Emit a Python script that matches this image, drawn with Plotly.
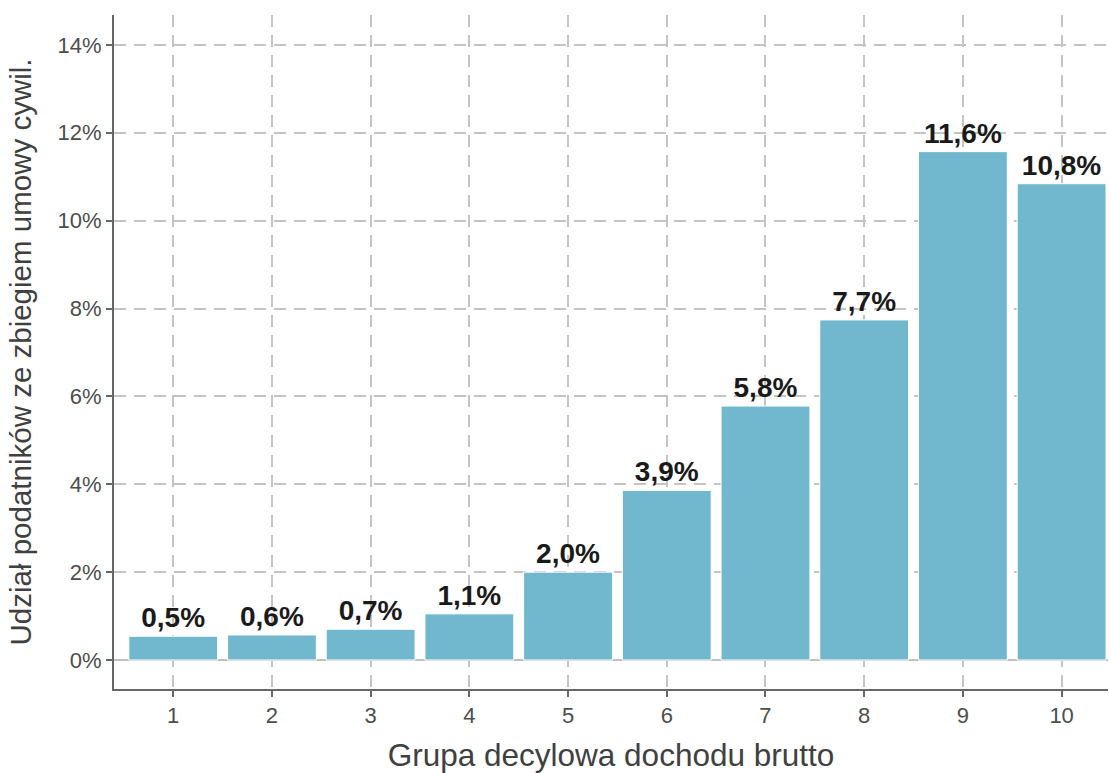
import plotly.graph_objects as go

grupy = [1, 2, 3, 4, 5, 6, 7, 8, 9, 10]
udzial = [0.54, 0.57, 0.70, 1.05, 2.00, 3.86, 5.78, 7.74, 11.57, 10.84]
etykiety = ["0,5%", "0,6%", "0,7%", "1,1%", "2,0%", "3,9%", "5,8%", "7,7%", "11,6%", "10,8%"]
y_ticks = [0, 2, 4, 6, 8, 10, 12, 14]
y_tick_labels = ["0%", "2%", "4%", "6%", "8%", "10%", "12%", "14%"]

FONT = "Liberation Sans, Arial"

fig = go.Figure()
fig.add_trace(go.Bar(
    x=grupy, y=udzial, width=0.9,
    marker=dict(color="#71b8cf", line=dict(color="white", width=1)),
    text=etykiety, textposition="outside", cliponaxis=False, constraintext="none",
    textfont=dict(family=FONT, size=28, color="#1a1a1a", weight="bold"),
    hoverinfo="skip",
))

axis_font = dict(family=FONT, size=22, color="#4d4d4d")
grid = dict(showgrid=True, gridcolor="#c4c4c4", griddash="12px,8px", gridwidth=1.6)
fig.update_layout(
    width=1109, height=773,
    margin=dict(l=114, r=1, t=15, b=84),
    plot_bgcolor="white", paper_bgcolor="white",
    showlegend=False,
    font=dict(family=FONT),
    xaxis=dict(
        range=[0.40, 10.47], tickvals=grupy, ticktext=[str(g) for g in grupy],
        tickfont=axis_font, ticks="outside", ticklen=6, tickcolor="#666666", tickwidth=1.5,
        showline=True, linecolor="#666666", linewidth=2,
        zeroline=False, automargin=False,
        title=dict(text="Grupa decylowa dochodu brutto",
                   font=dict(family=FONT, size=31.5, color="#404040"),
                   standoff=17),
        **grid,
    ),
    yaxis=dict(
        range=[-0.66, 14.68], tickvals=y_ticks, ticktext=y_tick_labels,
        tickfont=axis_font, ticks="outside", ticklen=6, tickcolor="#666666", tickwidth=1.5,
        showline=True, linecolor="#666666", linewidth=2,
        zeroline=True, zerolinecolor="#c0c0c0", zerolinewidth=2, automargin=False,
        title=dict(text="Udział podatników ze zbiegiem umowy cywil.",
                   font=dict(family=FONT, size=29.5, color="#404040"),
                   standoff=17),
        **grid,
    ),
)

fig.write_html("out.html", config={"displayModeBar": False},
               post_script="document.body.style.margin='0';")
